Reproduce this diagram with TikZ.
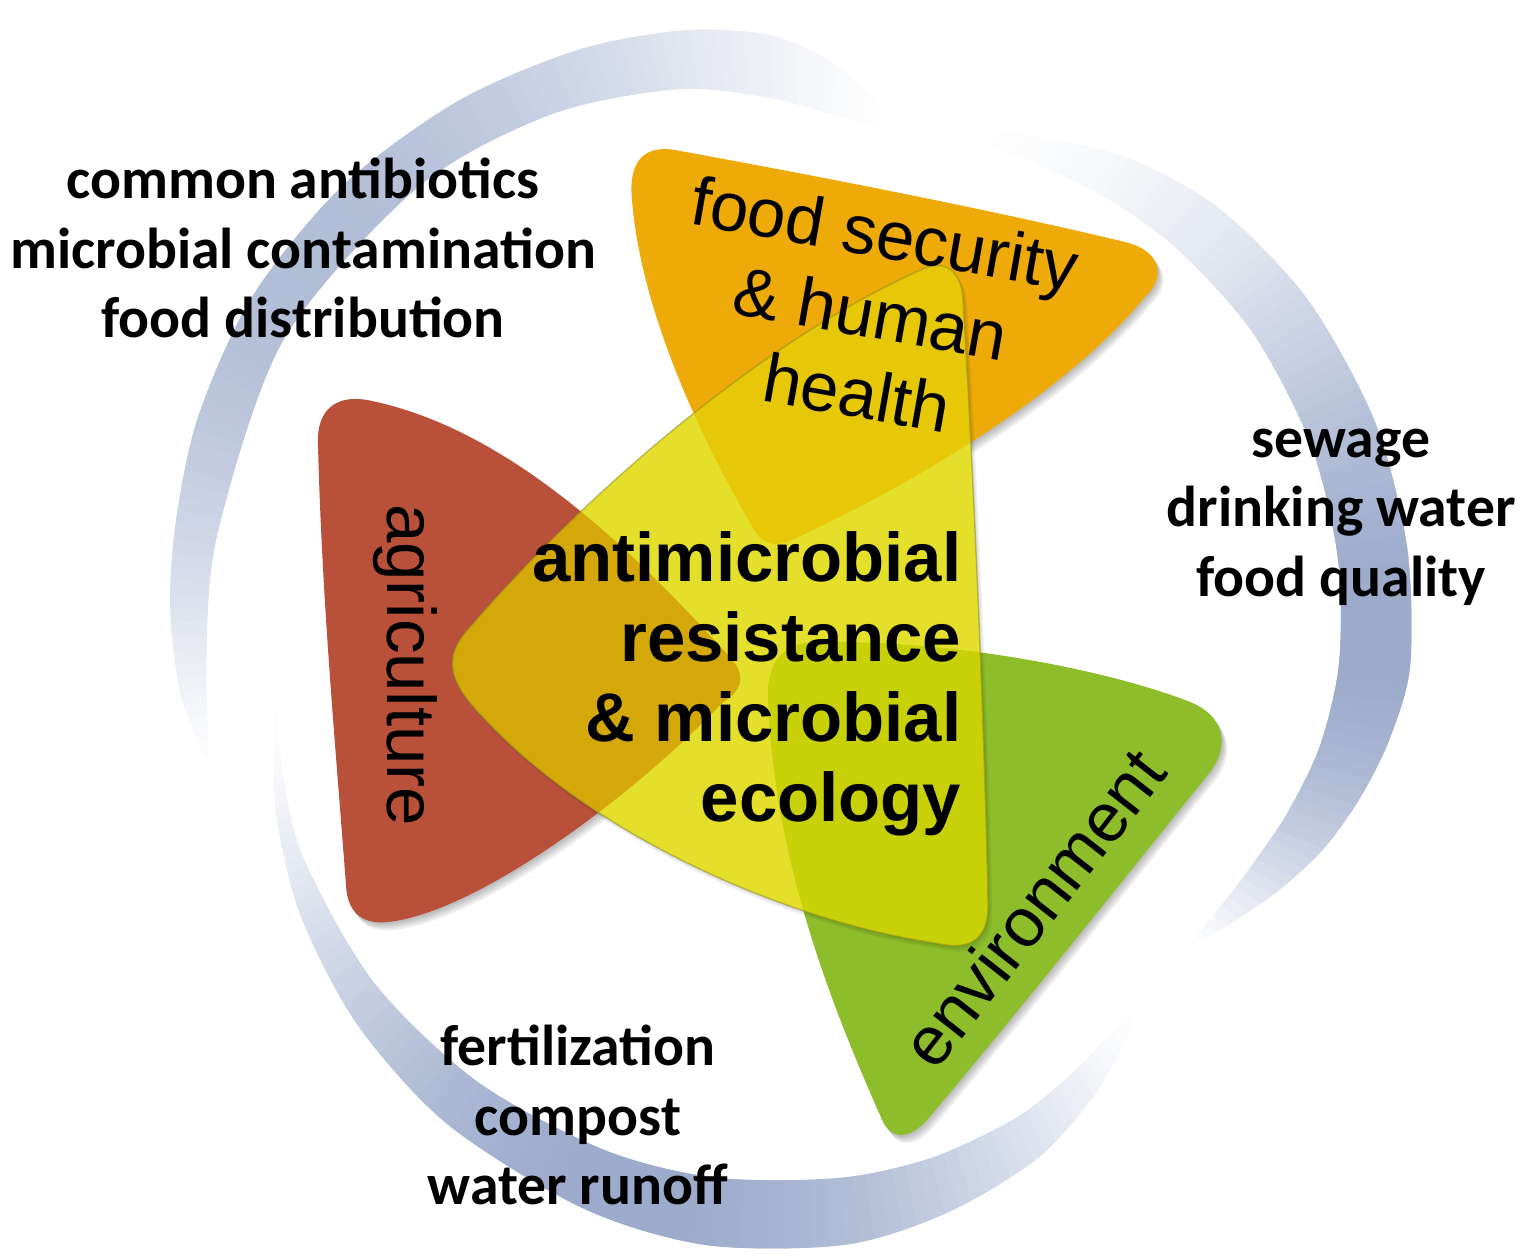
\documentclass[tikz,border=0pt]{standalone}
\usepackage{fontspec}
\usetikzlibrary{positioning}
\newfontfamily\labelfont{Liberation Sans}
\newfontfamily\notefont{Carlito}

\definecolor{ringblue}{RGB}{156,170,203}
\definecolor{agrired}{RGB}{185,80,58}
\definecolor{foodorange}{RGB}{237,170,8}
\definecolor{envgreen}{RGB}{141,189,42}
\definecolor{amryellow}{RGB}{228,223,42}
\definecolor{amronred}{RGB}{212,168,8}
\definecolor{amronorange}{RGB}{230,200,8}
\definecolor{amrongreen}{RGB}{200,208,8}

\tikzset{sector/.style = {font=\labelfont\fontsize{19.6}{23}\selectfont,
                          align=center, inner sep=0}}
\tikzset{core/.style = {font=\labelfont\bfseries\fontsize{19.6}{22.8}\selectfont,
                        align=right, inner sep=0}}
\tikzset{note/.style = {font=\notefont\bfseries\fontsize{16.4}{19.8}\selectfont,
                        align=center, inner sep=0}}
\tikzset{shadow/.style = {fill=black, opacity=.07}}

% the four leaves (pixel coordinates, y downwards)
\def\agripath{(318,445) .. controls (316,408) and (338,393) .. (372,401)
  .. controls (520,432) and (650,570) .. (728,655)
  .. controls (748,676) and (742,690) .. (722,703)
  .. controls (640,790) and (480,912) .. (388,922)
  .. controls (360,925) and (347,910) .. (346,885)
  .. controls (335,740) and (322,600) .. (318,445) -- cycle}
\def\foodpath{(632,200) .. controls (628,160) and (645,145) .. (675,150)
  .. controls (850,182) and (1000,212) .. (1125,242)
  .. controls (1162,251) and (1166,277) .. (1145,297)
  .. controls (1060,400) and (900,490) .. (792,540)
  .. controls (772,549) and (760,542) .. (752,526)
  .. controls (690,420) and (640,300) .. (632,200) -- cycle}
\def\envpath{(768,700) .. controls (766,660) and (785,642) .. (818,642)
  .. controls (950,640) and (1100,668) .. (1185,700)
  .. controls (1226,714) and (1230,746) .. (1210,772)
  .. controls (1115,890) and (1020,1010) .. (927,1120)
  .. controls (906,1143) and (888,1138) .. (880,1115)
  .. controls (820,980) and (775,850) .. (768,700) -- cycle}
\def\amrpath{(925,268) .. controls (950,259) and (962,276) .. (963,300)
  .. controls (975,500) and (985,750) .. (988,900)
  .. controls (990,945) and (965,950) .. (935,943)
  .. controls (780,920) and (580,830) .. (472,705)
  .. controls (444,672) and (448,650) .. (472,625)
  .. controls (580,500) and (760,340) .. (925,268) -- cycle}

% the three swooshes of the ring (polar, round the ring centre)
\def\ringA{plot[smooth] coordinates {(-193:598) (-186:614) (-178:622)
  (-170:626) (-160:632) (-148:636) (-135:634) (-122:628) (-110:621)
  (-100:612) (-92:598) (-86:572) (-81:538) (-78:514)}
  -- plot[smooth] coordinates {(-78:514) (-82:514) (-87:523) (-93:537)
  (-102:556) (-115:572) (-130:582) (-150:587) (-170:583) (-182:586)
  (-193:598)} -- cycle}
\def\ringB{plot[smooth] coordinates {(-78:516) (-72:530) (-65:550)
  (-55:581) (-45:602) (-33:614) (-20:620) (-8:621) (3:619) (10:607)
  (16:592) (22:574) (28:550) (34:524) (39:505)}
  -- plot[smooth] coordinates {(39:505) (33:508) (27:515) (20:527)
  (12:540) (3:548) (-8:551) (-20:552) (-33:550) (-45:544) (-55:536)
  (-65:527) (-72:520) (-78:516)} -- cycle}
\def\ringC{plot[smooth] coordinates {(-186:518) (-192:530) (-200:548)
  (-210:567) (-222:585) (-235:600) (-250:612) (-262:618) (-275:614)
  (-285:600) (-295:580) (-303:553) (-309:528) (-313:508)}
  -- plot[smooth] coordinates {(-313:508) (-309:511) (-303:521)
  (-295:534) (-285:543) (-275:547) (-262:550) (-250:550) (-235:548)
  (-220:545) (-205:538) (-195:528) (-186:518)} -- cycle}

% swoosh: from angle #1 to angle #2, peak placed by #3, strength #4, outline #5
\newcommand\swoosh[5]{%
  \begin{scope}[shift={(792,633)}]
    \clip #5;
    \foreach \i in {0,...,89} {
      \pgfmathsetmacro\ta{-(#1+(#2-#1)*\i/90)}
      \pgfmathsetmacro\tb{-(#1+(#2-#1)*(\i+2)/90)}
      \pgfmathsetmacro\k{#4*sin(180*((\i+0.5)/90)^#3)^1.4}
      \fill[ringblue!\k!white] (0,0) -- (\ta:800) -- (\tb:800) -- cycle;
    }
  \end{scope}}

\begin{document}
\begin{tikzpicture}[x=0.01cm, y=-0.01cm]
  \useasboundingbox (0,0) rectangle (1538,1259);

  % ring
  \swoosh{193}{78}{0.85}{78}{\ringA}
  \swoosh{78}{-39}{1.7}{100}{\ringB}
  \swoosh{186}{313}{1.1}{100}{\ringC}

  % leaves, with a soft shadow
  \foreach \d in {2,4,6,8} {
    \fill[shadow, shift={(\d*0.7,\d)}] \agripath;
    \fill[shadow, shift={(\d*0.7,\d)}] \foodpath;
    \fill[shadow, shift={(\d*0.7,\d)}] \envpath;
  }
  \fill[agrired] \agripath;
  \fill[foodorange] \foodpath;
  \fill[envgreen] \envpath;
  \foreach \d in {2,4,6} {
    \fill[shadow, opacity=.05, shift={(\d*0.7,\d)}] \amrpath;
  }
  \fill[amryellow] \amrpath;
  \begin{scope}
    \clip \amrpath;
    \fill[amronred] \agripath;
    \fill[amronorange] \foodpath;
    \fill[amrongreen] \envpath;
  \end{scope}
  \draw[amryellow!60!black, line width=.4pt, opacity=.5] \amrpath;

  % labels
  \node[core, anchor=east] (amr) at (962,684)
    {antimicrobial\\resistance\\\& microbial\\ecology};
  \node[sector, rotate=-10] (food) at (871,313) {food security\\\& human\\health};
  \node[sector, rotate=-90] (agri) at (405,665) {agriculture};
  \node[sector, rotate=52] (env) at (1033,908) {environment};

  \node[note] (human) at (303,248)
    {common antibiotics\\microbial contamination\\food distribution};
  \node[note] (water) at (1341,517) {sewage\\drinking water\\food quality};
  \node[note] (soil) at (578,1115) {fertilization\\compost\\water runoff};
\end{tikzpicture}
\end{document}
